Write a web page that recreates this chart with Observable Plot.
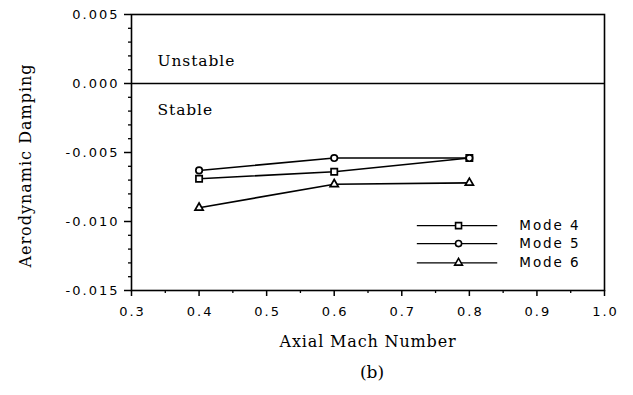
<!DOCTYPE html>
<html>
<head>
<meta charset="utf-8">
<script src="https://cdn.jsdelivr.net/npm/d3@7"></script>
<script src="https://cdn.jsdelivr.net/npm/@observablehq/plot@0.6"></script>
<style>
  html, body { margin: 0; padding: 0; background: #fff; }
  #chart svg { display: block; }
</style>
</head>
<body>
<div id="chart"></div>
<script>
// ---- data ----
const mach = [0.4, 0.6, 0.8];
const mode4 = [-0.0069, -0.0064, -0.0054];
const mode5 = [-0.0063, -0.0054, -0.0054];
const mode6 = [-0.0090, -0.0073, -0.0072];
const seriesNames = ["Mode 4", "Mode 5", "Mode 6"];
const seriesSymbols = ["square", "circle", "triangle"];
const xTicks = [0.3, 0.4, 0.5, 0.6, 0.7, 0.8, 0.9, 1.0];
const xTickLabels = ["0.3", "0.4", "0.5", "0.6", "0.7", "0.8", "0.9", "1.0"];
const yTicks = [0.005, 0, -0.005, -0.010, -0.015];
const yTickLabels = ["0.005", "0.000", "-0.005", "-0.010", "-0.015"];
const regionLabels = ["Unstable", "Stable"];
const xTitle = "Axial Mach Number";
const yTitle = "Aerodynamic Damping";
const caption = "(b)";

const seriesValues = [mode4, mode5, mode6];
const rows = [];
seriesValues.forEach((vals, s) => vals.forEach((v, i) => rows.push({series: seriesNames[s], sym: seriesSymbols[s], x: mach[i], y: v})));

const xMinor = d3.range(0.3, 1.0001, 0.05).map(d => +d.toFixed(2)).filter(d => !xTicks.some(t => Math.abs(t - d) < 1e-6));
const yMinor = d3.range(-0.015, 0.00501, 0.001).map(d => +d.toFixed(3)).filter(d => !yTicks.some(t => Math.abs(t - d) < 1e-7));

// legend layout (in data units)
const legX0 = 0.723, legX1 = 0.842, legMark = 0.784, legText = 0.874;
const legY = [-0.0103, -0.0116, -0.0130];
const legRows = seriesNames.map((n, i) => ({name: n, sym: seriesSymbols[i], y: legY[i]}));

const symR = {square: 4.1, circle: 3.4, triangle: 3.0};

const sans = "'DejaVu Sans', sans-serif";
const serif = "'DejaVu Serif', 'Liberation Serif', serif";

const chart = Plot.plot({
  width: 633,
  height: 395,
  marginLeft: 131,
  marginRight: 29,
  marginTop: 14,
  marginBottom: 105,
  style: {fontFamily: sans, fontSize: "13px", color: "#000", background: "#fff", overflow: "visible"},
  x: {type: "linear", domain: [0.3, 1.0]},
  y: {type: "linear", domain: [-0.015, 0.005]},
  marks: [
    Plot.frame({stroke: "#000", strokeWidth: 1.6}),
    Plot.ruleY([0], {stroke: "#000", strokeWidth: 1.4}),
    Plot.axisY({ticks: yTicks, tickFormat: d => yTickLabels[yTicks.findIndex(t => Math.abs(t - d) < 1e-9)], tickSize: 7, tickPadding: 5, strokeWidth: 1.5, label: null, fontFamily: sans}),
    Plot.axisY(yMinor, {tickSize: 3, tickFormat: () => "", strokeWidth: 1.3, label: null}),
    Plot.axisX({ticks: xTicks, tickFormat: d => xTickLabels[xTicks.findIndex(t => Math.abs(t - d) < 1e-6)], tickSize: 6, tickPadding: 10, strokeWidth: 1.5, label: null, fontFamily: sans}),
    Plot.axisX(xMinor, {tickSize: 3, tickFormat: () => "", strokeWidth: 1.3, label: null}),
    // region labels
    Plot.text([regionLabels[0]], {x: 0.3, y: 0, text: d => d, dx: 26, dy: -22, textAnchor: "start", fontFamily: serif, fontSize: 15.5}),
    Plot.text([regionLabels[1]], {x: 0.3, y: 0, text: d => d, dx: 26, dy: 27, textAnchor: "start", fontFamily: serif, fontSize: 15.5}),
    // data lines
    Plot.line(rows, {x: "x", y: "y", z: "series", stroke: "#000", strokeWidth: 1.6}),
    Plot.dot(rows, {x: "x", y: "y", symbol: "sym", r: d => symR[d.sym], fill: "#fff", stroke: "#000", strokeWidth: 1.7}),
    // legend
    Plot.ruleY(legRows, {y: "y", x1: legX0, x2: legX1, stroke: "#000", strokeWidth: 1.3}),
    Plot.dot(legRows, {x: legMark, y: "y", symbol: "sym", r: d => symR[d.sym] * 0.9, fill: "#fff", stroke: "#000", strokeWidth: 1.6}),
    Plot.text(legRows, {x: legText, y: "y", text: "name", textAnchor: "start", fontFamily: sans, fontSize: 13.5}),
    // axis titles
    Plot.text([xTitle], {x: 0.65, y: -0.015, text: d => d, dy: 51, fontFamily: serif, fontSize: 16}),
    Plot.text([caption], {x: 0.65, y: -0.015, text: d => d, dx: 4, dy: 82, fontFamily: serif, fontSize: 17}),
    Plot.text([yTitle], {x: 0.3, y: -0.005, text: d => d, dx: -106, dy: 13, rotate: -90, fontFamily: serif, fontSize: 16})
  ]
});

// font size / letter spacing tweaks
const svg = d3.select(chart);
svg.selectAll('g[aria-label="y-axis tick label"]').attr("font-size", 13);
svg.selectAll('g[aria-label="x-axis tick label"]').attr("font-size", 13);
svg.selectAll('g[aria-label="y-axis tick label"] text').style("letter-spacing", "2px").style("font-size", "13px");
svg.selectAll('g[aria-label="x-axis tick label"] text').style("letter-spacing", "2px").style("font-size", "13px").attr("dx", "1");
const spacing = new Map([
  [xTitle, "0.85px"], [yTitle, "1px"], [regionLabels[0], "0.9px"], [regionLabels[1], "0.9px"],
  ...seriesNames.map(n => [n, "1.9px"])
]);
svg.selectAll("text").each(function() {
  const s = spacing.get(this.textContent);
  if (s) this.style.letterSpacing = s;
});
document.getElementById("chart").appendChild(chart);
</script>
</body>
</html>
